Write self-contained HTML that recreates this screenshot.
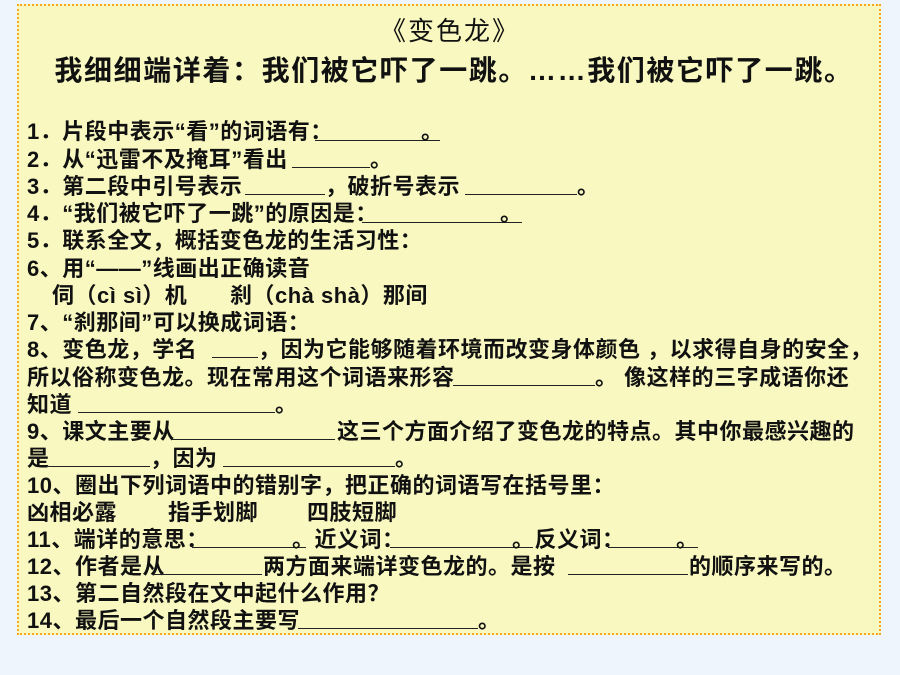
<!DOCTYPE html>
<html><head><meta charset="utf-8"><style>
body{margin:0;width:900px;height:675px;background:#eef5fd;position:relative;overflow:hidden;font-family:"Liberation Sans","Noto Sans CJK SC",sans-serif;}
.box{position:absolute;left:17px;top:4px;width:864px;height:631px;background:#f8f8c0;border:2px dotted #f5a623;box-sizing:border-box;}
.t{position:absolute;white-space:nowrap;font-size:22px;font-weight:bold;letter-spacing:0.5px;color:#111;line-height:22px;}
.b{position:absolute;height:0;border-top:1.6px solid #222;}
</style></head><body>
<div class="box"></div>
<div class="t" style="left:0;width:900px;text-align:center;top:20px;font-size:26px;font-weight:normal;letter-spacing:2px">《变色龙》</div>
<div class="t" style="left:4px;width:900px;text-align:center;top:57px;font-size:28px;letter-spacing:1.6px;line-height:28px">我细细端详着：我们被它吓了一跳。……我们被它吓了一跳。</div>

<div class="t" style="left:27px;top:121px">1．片段中表示“看”的词语有：</div>
<div class="b" style="left:315px;width:125px;top:140px"></div><div class="t" style="left:421px;top:121px">。</div>

<div class="t" style="left:27px;top:149px">2．从“迅雷不及掩耳”看出</div>
<div class="b" style="left:292px;width:78px;top:167px"></div><div class="t" style="left:370px;top:149px">。</div>

<div class="t" style="left:27px;top:176px">3．第二段中引号表示</div>
<div class="b" style="left:245px;width:80px;top:194px"></div>
<div class="t" style="left:325px;top:176px">，破折号表示</div>
<div class="b" style="left:465px;width:112px;top:194px"></div><div class="t" style="left:577px;top:176px">。</div>

<div class="t" style="left:27px;top:203px">4．“我们被它吓了一跳”的原因是：</div>
<div class="b" style="left:362px;width:160px;top:222px"></div><div class="t" style="left:500px;top:203px">。</div>

<div class="t" style="left:27px;top:230px">5．联系全文，概括变色龙的生活习性：</div>
<div class="t" style="left:27px;top:258px">6、用“——”线画出正确读音</div>
<div class="t" style="left:52px;top:285px">伺（cì sì）机</div>
<div class="t" style="left:230px;top:285px">刹（chà shà）那间</div>
<div class="t" style="left:27px;top:312px">7、“刹那间”可以换成词语：</div>

<div class="t" style="left:27px;top:339px">8、变色龙，学名</div>
<div class="b" style="left:212px;width:46px;top:357px"></div>
<div class="t" style="left:258px;top:339px">，因为它能够随着环境而改变身体颜色 ，以求得自身的安全，</div>

<div class="t" style="left:27px;top:367px">所以俗称变色龙。现在常用这个词语来形容</div>
<div class="b" style="left:453px;width:142px;top:385px"></div>
<div class="t" style="left:595px;top:367px">。 像这样的三字成语你还</div>

<div class="t" style="left:27px;top:394px">知道</div>
<div class="b" style="left:78px;width:197px;top:412px"></div><div class="t" style="left:275px;top:394px">。</div>

<div class="t" style="left:27px;top:421px">9、课文主要从</div>
<div class="b" style="left:172px;width:163px;top:439px"></div>
<div class="t" style="left:337px;top:421px">这三个方面介绍了变色龙的特点。其中你最感兴趣的</div>

<div class="t" style="left:27px;top:448px">是</div>
<div class="b" style="left:48px;width:102px;top:466px"></div>
<div class="t" style="left:150px;top:448px">，因为</div>
<div class="b" style="left:223px;width:172px;top:466px"></div><div class="t" style="left:395px;top:448px">。</div>

<div class="t" style="left:27px;top:475px">10、圈出下列词语中的错别字，把正确的词语写在括号里：</div>
<div class="t" style="left:27px;top:502px">凶相必露</div>
<div class="t" style="left:168px;top:502px">指手划脚</div>
<div class="t" style="left:307px;top:502px">四肢短脚</div>

<div class="t" style="left:27px;top:529px">11、端详的意思：</div>
<div class="b" style="left:192px;width:114px;top:547px"></div>
<div class="t" style="left:292px;top:529px">。近义词：</div>
<div class="b" style="left:390px;width:143px;top:547px"></div>
<div class="t" style="left:512px;top:529px">。反义词：</div>
<div class="b" style="left:608px;width:90px;top:547px"></div><div class="t" style="left:676px;top:529px">。</div>

<div class="t" style="left:27px;top:556px">12、作者是从</div>
<div class="b" style="left:152px;width:110px;top:574px"></div>
<div class="t" style="left:263px;top:556px">两方面来端详变色龙的。是按</div>
<div class="b" style="left:568px;width:120px;top:574px"></div>
<div class="t" style="left:689px;top:556px">的顺序来写的。</div>

<div class="t" style="left:27px;top:583px">13、第二自然段在文中起什么作用？</div>
<div class="t" style="left:27px;top:610px">14、最后一个自然段主要写</div>
<div class="b" style="left:298px;width:180px;top:628px"></div><div class="t" style="left:478px;top:610px">。</div>
</body></html>
